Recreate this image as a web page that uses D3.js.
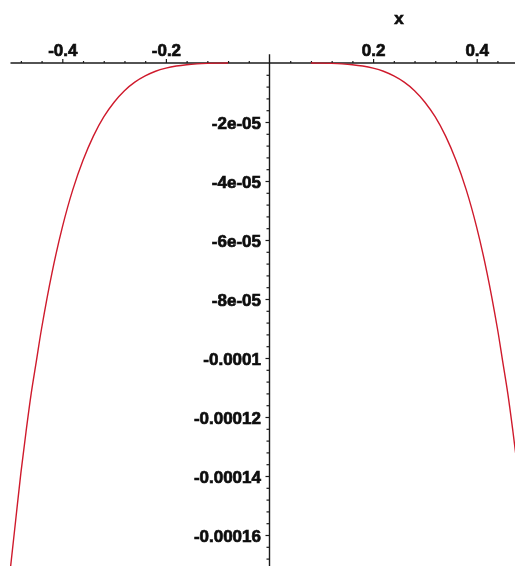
<!DOCTYPE html>
<html>
<head>
<meta charset="utf-8">
<script src="https://cdn.jsdelivr.net/npm/d3@7"></script>
<style>
  html, body { margin: 0; padding: 0; background: #fff; }
  svg { display: block; }
  .tick text, .axis-title {
    font-family: "Liberation Sans", Arial, sans-serif; font-weight: bold; font-size: 17px;
    fill: #111; stroke: #111; stroke-width: 0.7px; paint-order: stroke;
  }
</style>
</head>
<body>
<svg id="chart" width="515" height="566"></svg>
<script>
// Sampled curve: x positions and y values (null where the curve runs along the axis)
const xValues = [-0.50, -0.49, -0.48, -0.47, -0.46, -0.45, -0.44, -0.42, -0.40, -0.38, -0.36, -0.34, -0.32, -0.30,
                 -0.28, -0.26, -0.24, -0.22, -0.20, -0.18, -0.16, -0.14, -0.12, -0.10, -0.08,
                 -0.06, -0.04, -0.02, 0.00, 0.02, 0.04, 0.06,
                 0.08, 0.10, 0.12, 0.14, 0.16, 0.18, 0.20, 0.22, 0.24, 0.26, 0.28,
                 0.30, 0.32, 0.34, 0.36, 0.38, 0.40, 0.42, 0.44, 0.45, 0.46, 0.47, 0.48, 0.49, 0.50];
const yValues = [-1.71e-4, -1.55e-4, -1.39e-4, -1.25e-4, -1.12e-4, -1.01e-4, -9.0e-5, -7.12e-5, -5.57e-5, -4.31e-5, -3.30e-5, -2.48e-5, -1.83e-5, -1.33e-5,
                 -9.4e-6, -6.5e-6, -4.4e-6, -2.8e-6, -1.75e-6, -1.03e-6, -5.7e-7, -2.9e-7, -1.3e-7, -5e-8, -2e-8,
                 null, null, null, null, null, null, null,
                 -2e-8, -5e-8, -1.3e-7, -2.9e-7, -5.7e-7, -1.03e-6, -1.75e-6, -2.8e-6, -4.4e-6, -6.5e-6, -9.4e-6,
                 -1.33e-5, -1.83e-5, -2.48e-5, -3.30e-5, -4.31e-5, -5.57e-5, -7.12e-5, -9.0e-5, -1.01e-4, -1.12e-4, -1.25e-4, -1.39e-4, -1.55e-4, -1.71e-4];

// Axis ticks
const xTickValues = [-0.4, -0.2, 0.2, 0.4];
const xTickLabels = ["-0.4", "-0.2", "0.2", "0.4"];
const xMinorTicks = [-0.48, -0.44, -0.36, -0.32, -0.28, -0.24, -0.16, -0.12, -0.08, -0.04,
                     0.04, 0.08, 0.12, 0.16, 0.24, 0.28, 0.32, 0.36, 0.44, 0.48];
const yTickValues = [-2e-5, -4e-5, -6e-5, -8e-5, -1e-4, -1.2e-4, -1.4e-4, -1.6e-4];
const yTickLabels = ["-2e-05", "-4e-05", "-6e-05", "-8e-05", "-0.0001", "-0.00012", "-0.00014", "-0.00016"];
const yMinorTicks = [-4e-6, -8e-6, -1.2e-5, -1.6e-5, -2.4e-5, -2.8e-5, -3.2e-5, -3.6e-5,
                     -4.4e-5, -4.8e-5, -5.2e-5, -5.6e-5, -6.4e-5, -6.8e-5, -7.2e-5, -7.6e-5,
                     -8.4e-5, -8.8e-5, -9.2e-5, -9.6e-5, -1.04e-4, -1.08e-4, -1.12e-4, -1.16e-4,
                     -1.24e-4, -1.28e-4, -1.32e-4, -1.36e-4, -1.44e-4, -1.48e-4, -1.52e-4, -1.56e-4,
                     -1.64e-4, -1.68e-4];
const axisLabel = "x";

const svg = d3.select("#chart");
const W = 515, H = 566;

// slight softening of the text edges
const defs = svg.append("defs");
defs.append("filter").attr("id", "soft")
  .append("feGaussianBlur").attr("stdDeviation", 0.45);

const x = d3.scaleLinear().domain([-0.5, 0.5]).range([10.5, 528.5]);
const y = d3.scaleLinear().domain([0, -1.6e-4]).range([63, 535]);

const axisColor = "#1a1a1a";
const x0 = x(0), y0 = y(0);

// axis lines
svg.append("line")
  .attr("x1", x(-0.5)).attr("x2", W)
  .attr("y1", y0).attr("y2", y0)
  .attr("stroke", axisColor).attr("stroke-width", 1.4);
svg.append("line")
  .attr("x1", x0).attr("x2", x0)
  .attr("y1", y(3e-6)).attr("y2", H)
  .attr("stroke", axisColor).attr("stroke-width", 1.4);

// x axis ticks (above the line)
const xAxisMajor = d3.axisTop(x).tickValues(xTickValues)
  .tickFormat((d, i) => xTickLabels[i]).tickSize(4).tickPadding(3);
const gx = svg.append("g").attr("transform", `translate(0,${y0})`).call(xAxisMajor);
const xAxisMinor = d3.axisTop(x).tickValues(xMinorTicks).tickFormat("").tickSize(2);
const gxm = svg.append("g").attr("transform", `translate(0,${y0})`).call(xAxisMinor);

// y axis ticks (left of the line)
const yAxisMajor = d3.axisLeft(y).tickValues(yTickValues)
  .tickFormat((d, i) => yTickLabels[i]).tickSize(4).tickPadding(4.5);
const gy = svg.append("g").attr("transform", `translate(${x0},0)`).call(yAxisMajor);
const yAxisMinor = d3.axisLeft(y).tickValues(yMinorTicks).tickFormat("").tickSize(3);
const gym = svg.append("g").attr("transform", `translate(${x0},0)`).call(yAxisMinor);

[gx, gxm, gy, gym].forEach(g => {
  g.select(".domain").remove();
  g.selectAll(".tick line").attr("stroke", axisColor).attr("stroke-width", 1.2);
});
gy.selectAll(".tick text").attr("dy", "0.36em");
gx.selectAll(".tick text").attr("filter", "url(#soft)");
gy.selectAll(".tick text").attr("filter", "url(#soft)");

// axis title
svg.append("text").attr("class", "axis-title")
  .attr("x", x(0.25)).attr("y", 24)
  .attr("text-anchor", "middle")
  .attr("filter", "url(#soft)")
  .text(axisLabel);

// curve
const pts = xValues.map((v, i) => ({ x: v, y: yValues[i] }));
const line = d3.line()
  .defined(d => d.y !== null)
  .x(d => x(d.x)).y(d => y(d.y))
  .curve(d3.curveCatmullRom);
svg.append("path")
  .datum(pts)
  .attr("d", line)
  .attr("fill", "none")
  .attr("stroke", "#cf1a2c")
  .attr("stroke-width", 1.4);
</script>
</body>
</html>
